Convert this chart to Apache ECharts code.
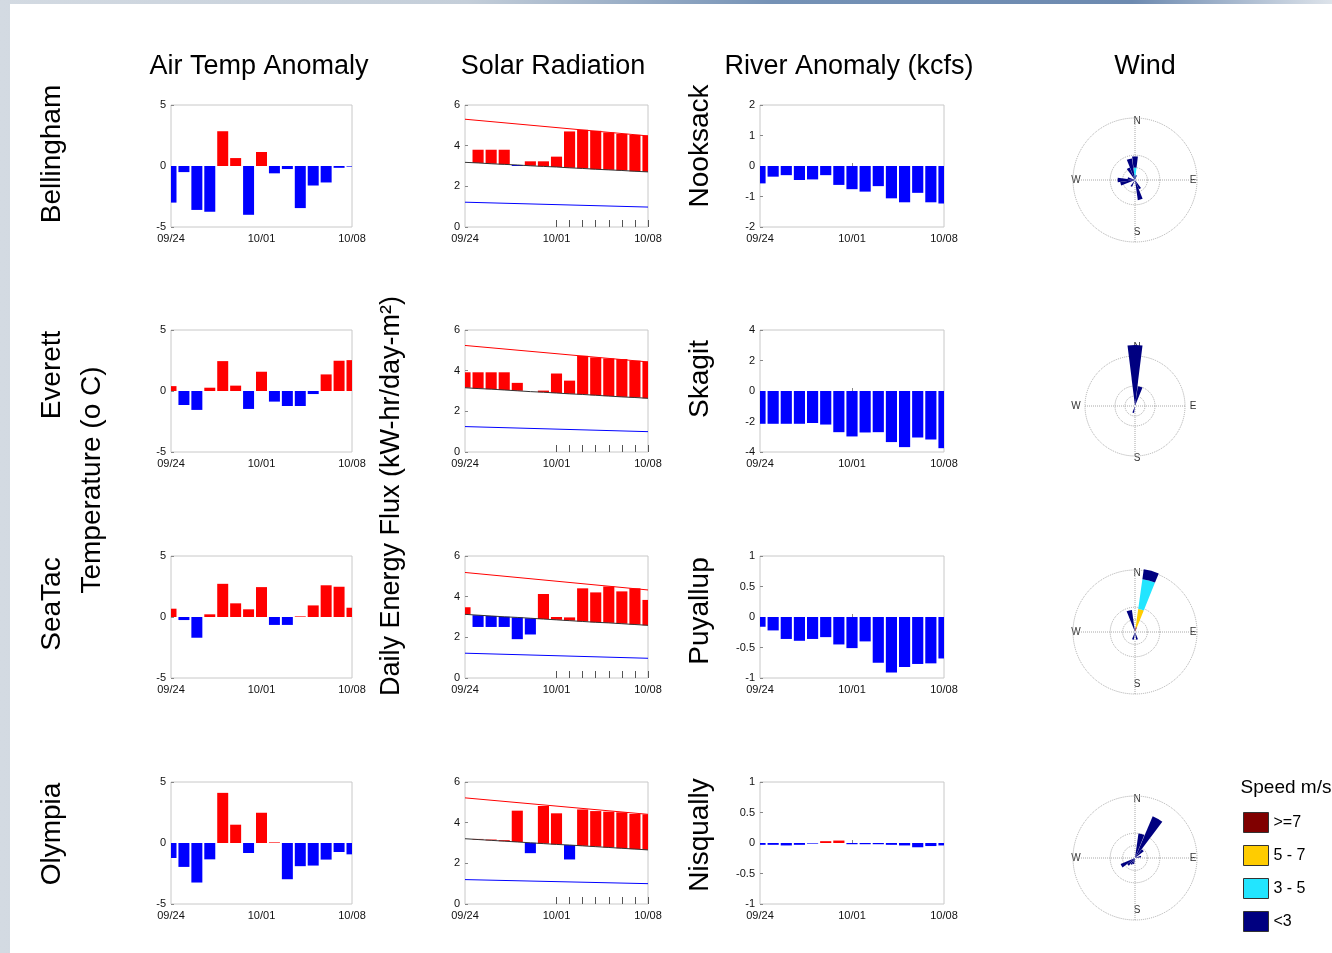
<!DOCTYPE html>
<html>
<head>
<meta charset="utf-8">
<title>Weather summary 09/24 - 10/08</title>
<script src="https://cdn.jsdelivr.net/npm/echarts/dist/echarts.min.js"></script>
<style>
  html, body { margin: 0; padding: 0; }
  #wrap { position: relative; width: 1332px; height: 953px; overflow: hidden;
    background: linear-gradient(90deg, #d3dae2 0%, #c4ced9 35%, #7592b6 58%, #6d8ab0 85%, #dde3ea 100%); }
  #paper { position: absolute; left: 10px; top: 4px; right: 0; bottom: 0; background: #fff; }
  #main { position: absolute; left: 0; top: 0; width: 1332px; height: 953px; }
</style>
</head>
<body>
<div id="wrap"><div id="paper"></div><div id="main"></div></div>
<script>
"use strict";

// ---- data ----
var days = ['09/24', '09/25', '09/26', '09/27', '09/28', '09/29', '09/30', '10/01',
            '10/02', '10/03', '10/04', '10/05', '10/06', '10/07', '10/08'];
var stations = ['Bellingham', 'Everett', 'SeaTac', 'Olympia'];
var rivers = ['Nooksack', 'Skagit', 'Puyallup', 'Nisqually'];
var columnTitles = ['Air Temp Anomaly', 'Solar Radiation', 'River Anomaly (kcfs)', 'Wind'];

// air temperature anomaly (deg C), one value per day
var tempBellingham = [-3.0, -0.5, -3.6, -3.75, 2.85, 0.65, -4.0, 1.15, -0.6, -0.25, -3.45, -1.6, -1.35, -0.15, -0.05];
var tempEverett    = [0.4, -1.15, -1.55, 0.27, 2.45, 0.44, -1.47, 1.58, -0.87, -1.23, -1.23, -0.25, 1.36, 2.48, 2.53];
var tempSeaTac     = [0.68, -0.25, -1.7, 0.22, 2.72, 1.12, 0.63, 2.45, -0.65, -0.65, 0.05, 0.95, 2.6, 2.48, 0.76];
var tempOlympia    = [-1.23, -1.96, -3.24, -1.34, 4.11, 1.5, -0.82, 2.48, 0.05, -2.97, -1.9, -1.85, -1.36, -0.74, -0.93];

// daily solar energy (kW-hr/day-m2): observed, climatology, clear sky (start/end), cloudy (start/end)
var solarBellingham = [3.18, 3.80, 3.80, 3.80, 3.00, 3.23, 3.23, 3.46, 4.70, 4.78, 4.73, 4.65, 4.58, 4.53, 4.50];
var climBellingham  = [3.18, 3.15, 3.11, 3.08, 3.05, 3.01, 2.98, 2.95, 2.91, 2.88, 2.84, 2.81, 2.78, 2.74, 2.71];
var clearBellingham = [5.30, 4.48];
var cloudBellingham = [1.22, 0.98];

var solarEverett = [3.92, 3.92, 3.92, 3.92, 3.40, 2.97, 3.02, 3.86, 3.51, 4.73, 4.65, 4.60, 4.57, 4.49, 4.45];
var climEverett  = [3.16, 3.12, 3.09, 3.05, 3.01, 2.97, 2.94, 2.90, 2.86, 2.83, 2.79, 2.75, 2.71, 2.68, 2.64];
var clearEverett = [5.24, 4.43];
var cloudEverett = [1.25, 1.00];

var solarSeaTac = [3.48, 2.51, 2.51, 2.51, 1.91, 2.14, 4.13, 3.00, 2.98, 4.41, 4.21, 4.50, 4.26, 4.41, 3.84];
var climSeaTac  = [3.13, 3.09, 3.05, 3.01, 2.98, 2.94, 2.90, 2.86, 2.82, 2.78, 2.74, 2.71, 2.67, 2.63, 2.59];
var clearSeaTac = [5.19, 4.33];
var cloudSeaTac = [1.22, 0.97];

var solarOlympia = [3.21, 3.20, 3.17, 3.14, 4.59, 2.50, 4.82, 4.46, 2.19, 4.65, 4.57, 4.54, 4.51, 4.43, 4.41];
var climOlympia  = [3.21, 3.17, 3.13, 3.09, 3.05, 3.01, 2.97, 2.93, 2.90, 2.86, 2.82, 2.78, 2.74, 2.70, 2.66];
var clearOlympia = [5.22, 4.41];
var cloudOlympia = [1.20, 1.00];

// river flow anomaly (kcfs)
var riverNooksack  = [-0.57, -0.35, -0.30, -0.46, -0.44, -0.30, -0.62, -0.76, -0.84, -0.66, -1.06, -1.19, -0.88, -1.19, -1.23];
var riverSkagit    = [-2.15, -2.15, -2.15, -2.15, -2.1, -2.2, -2.7, -2.98, -2.72, -2.7, -3.35, -3.68, -3.05, -3.18, -3.75];
var riverPuyallup  = [-0.16, -0.22, -0.36, -0.39, -0.36, -0.33, -0.45, -0.51, -0.40, -0.75, -0.91, -0.82, -0.77, -0.76, -0.68];
var riverNisqually = [-0.03, -0.03, -0.04, -0.03, -0.01, 0.03, 0.04, -0.02, -0.02, -0.02, -0.03, -0.04, -0.07, -0.05, -0.04];
var riverTicks = [[-2, 2, 1], [-4, 4, 2], [-1, 1, 0.5], [-1, 1, 0.5]]; // min, max, step

// wind rose: frequency (%) per 15 degree sector, starting at N going clockwise
var windSectors = ['0', '15', '30', '45', '60', '75', '90', '105', '120', '135', '150', '165',
                   '180', '195', '210', '225', '240', '255', '270', '285', '300', '315', '330', '345'];
var speedClasses = ['>=7', '5 - 7', '3 - 5', '<3'];
var roseRings = [5, 10, 25];
var bellinghamLt3  = [4.5, 2, 0, 0, 0, 0, 0, 0, 0, 0, 4, 8.2, 0, 0, 3, 0, 0, 6, 7, 3, 0, 0, 5.5, 8.8];
var bellingham3to5 = [5, 0, 0, 0, 0, 0, 0, 0, 0, 0, 0, 0, 0, 0, 0, 0, 0, 0, 0, 0, 0, 0, 0, 0];
var everettLt3     = [30.5, 10, 0, 0, 0, 0, 0, 0, 0, 0, 0, 0, 0, 3.5, 0, 0, 0, 0, 0, 0, 0, 0, 0, 0];
var seatacGe7      = [0, 2, 0, 0, 0, 0, 0, 0, 0, 0, 0, 0, 0, 0, 0, 0, 0, 0, 0, 0, 0, 0, 0, 0];
var seatac5to7     = [0, 7.4, 0, 0, 0, 0, 0, 0, 0, 0, 0, 0, 0, 0, 0, 0, 0, 0, 0, 0, 0, 0, 0, 0];
var seatac3to5     = [0, 12.1, 0, 0, 0, 0, 0, 0, 0, 0, 0, 0, 0, 0, 0, 0, 0, 0, 0, 0, 0, 0, 0, 0];
var seatacLt3      = [0, 4, 0, 0, 0, 0, 0, 0, 0, 0, 0, 3.2, 0, 3.2, 0, 0, 0, 0, 0, 0, 0, 0, 0, 9];
var olympiaLt3     = [0, 10, 18.3, 4.5, 0, 2.5, 0, 0, 0, 0, 0, 0, 0, 2.5, 3, 4, 6.3, 0, 0, 0, 0, 0, 0, 0];

// ---- styling / layout ----
var RED = '#ff0000', BLUE = '#0000ff';
var speedColors = ['#800000', '#ffcc00', '#22e5ff', '#000080'];
var FONT = '"Liberation Sans", Arial, sans-serif';
var colLeft = [171, 465, 760], colWidth = [181, 183, 184];
var rowTop = [105, 330, 556, 782], rowHeight = 122;
var roseX = 1135, roseY = [180, 406, 632, 858];
var roseScale = [2.48, 2.0, 2.48, 2.48]; // px per percent

var grids = [], xAxes = [], yAxes = [], series = [];
var polars = [], angleAxes = [], radiusAxes = [], graphics = [];

var labelStyle = { fontSize: 11, color: '#111', fontFamily: FONT };

// one small framed panel with the date axis; solar panels get daily ticks after 10/01
function addPanel(row, col, yMin, yMax, yStep) {
	grids.push({
		left: colLeft[col], top: rowTop[row], width: colWidth[col], height: rowHeight,
		show: true, borderColor: '#c8c8c8', borderWidth: 1
	});
	var g = grids.length - 1;
	var solar = col === 1;
	xAxes.push({
		type: 'category', gridIndex: g, data: days, boundaryGap: false, position: 'bottom',
		axisLine: { show: false }, splitLine: { show: false },
		axisTick: { show: true, inside: true, length: solar ? 7 : 3,
			lineStyle: { color: solar ? '#555' : '#888' },
			interval: function (i) { return solar ? i >= 7 : i === 7; } },
		axisLabel: Object.assign({ margin: 6, interval: function (i) { return i % 7 === 0; } }, labelStyle)
	});
	yAxes.push({
		type: 'value', gridIndex: g, min: yMin, max: yMax, interval: yStep,
		axisLine: { show: false }, splitLine: { show: false },
		axisTick: { show: true, inside: true, length: 3, lineStyle: { color: '#888' } },
		axisLabel: Object.assign({ margin: 5 }, labelStyle)
	});
	return g;
}

// rectangle from value(1) to value(2), red when it rises, blue when it falls
function renderBar(params, api) {
	var i = api.value(0), lo = api.value(1), hi = api.value(2);
	var p0 = api.coord([i, lo]), p1 = api.coord([i, hi]);
	var w = api.size([1, 0])[0] * 0.85;
	return {
		type: 'rect',
		shape: { x: p0[0] - w / 2, y: Math.min(p0[1], p1[1]), width: w, height: Math.abs(p1[1] - p0[1]) },
		style: { fill: hi >= lo ? RED : BLUE }
	};
}

function floatBars(g, from, to) {
	series.push({
		type: 'custom', xAxisIndex: g, yAxisIndex: g, clip: true, renderItem: renderBar,
		encode: { x: 0, y: [1, 2] },
		data: to.map(function (v, i) { return [i, from ? from[i] : 0, v]; })
	});
}

function solarLines(g, clim, clear, cloud) {
	var line = { type: 'line', xAxisIndex: g, yAxisIndex: g, symbol: 'none', silent: true, z: 3 };
	series.push(Object.assign({ data: [[0, clear[0]], [14, clear[1]]], lineStyle: { color: RED, width: 1 } }, line));
	series.push(Object.assign({ data: [[0, cloud[0]], [14, cloud[1]]], lineStyle: { color: BLUE, width: 1 } }, line));
	series.push(Object.assign({ data: clim.map(function (v, i) { return [i, v]; }), lineStyle: { color: '#333', width: 1 } }, line));
}

function addPolar(cx, cy, r, angleAx, radiusAx) {
	polars.push({ center: [cx, cy], radius: r });
	angleAx.polarIndex = polars.length - 1;
	radiusAx.polarIndex = polars.length - 1;
	angleAxes.push(angleAx);
	radiusAxes.push(radiusAx);
	return polars.length - 1;
}

function windRose(s, classes) {
	var cy = roseY[s], k = roseScale[s];
	var dotted = { color: '#a8a8a8', type: 'dotted', width: 1 };
	roseRings.forEach(function (ring, n) {
		addPolar(roseX, cy, ring * k, {
			type: 'value', min: 0, max: 360, interval: 90, startAngle: 90, clockwise: true,
			axisLine: { show: true, lineStyle: dotted }, axisTick: { show: false }, axisLabel: { show: false },
			splitLine: { show: n === roseRings.length - 1, lineStyle: dotted }
		}, { type: 'value', min: 0, max: ring, show: false });
	});
	var pi = addPolar(roseX, cy, 32 * k,
		{ type: 'category', data: windSectors, startAngle: 97.5, clockwise: true, show: false },
		{ type: 'value', min: 0, max: 32, show: false });
	classes.forEach(function (arr, c) {
		if (!arr) return;
		series.push({
			type: 'bar', coordinateSystem: 'polar', polarIndex: pi, name: speedClasses[c],
			stack: 'rose' + s, data: arr, barCategoryGap: '6%', itemStyle: { color: speedColors[c] }
		});
	});
	// compass letters
	[['N', 2, -59], ['E', 58, 0], ['S', 2, 52], ['W', -59, 0]].forEach(function (d) {
		graphics.push(text(d[0], roseX + d[1], cy + d[2], 10, false, '#333'));
	});
}

function text(str, x, y, size, vertical, color) {
	return {
		type: 'text', x: x, y: y, rotation: vertical ? Math.PI / 2 : 0, silent: true,
		style: { text: str, font: size + 'px ' + FONT, fill: color || '#000',
			textAlign: 'center', textVerticalAlign: 'middle' }
	};
}

// ---- build panels ----
var temps = [tempBellingham, tempEverett, tempSeaTac, tempOlympia];
var solars = [solarBellingham, solarEverett, solarSeaTac, solarOlympia];
var clims = [climBellingham, climEverett, climSeaTac, climOlympia];
var clears = [clearBellingham, clearEverett, clearSeaTac, clearOlympia];
var clouds = [cloudBellingham, cloudEverett, cloudSeaTac, cloudOlympia];
var flows = [riverNooksack, riverSkagit, riverPuyallup, riverNisqually];
var winds = [
	[null, null, bellingham3to5, bellinghamLt3],
	[null, null, null, everettLt3],
	[seatacGe7, seatac5to7, seatac3to5, seatacLt3],
	[null, null, null, olympiaLt3]
];

for (var r = 0; r < 4; r++) {
	floatBars(addPanel(r, 0, -5, 5, 5), null, temps[r]);
	var sg = addPanel(r, 1, 0, 6, 2);
	floatBars(sg, clims[r], solars[r]);
	solarLines(sg, clims[r], clears[r], clouds[r]);
	floatBars(addPanel(r, 2, riverTicks[r][0], riverTicks[r][1], riverTicks[r][2]), null, flows[r]);
	windRose(r, winds[r]);
}

// ---- titles and side labels ----
var titleX = [259, 553, 849, 1145];
columnTitles.forEach(function (t, i) { graphics.push(text(t, titleX[i], 67, 27)); });
var stationY = [154, 375, 604, 834];
stations.forEach(function (t, i) { graphics.push(text(t, 52, stationY[i], 28, true)); });
var riverY = [146, 379, 611, 835];
rivers.forEach(function (t, i) { graphics.push(text(t, 700, riverY[i], 28, true)); });
graphics.push(text('Temperature (o C)', 92, 480, 28, true));
graphics.push(text('Daily Energy Flux (kW-hr/day-m\u00b2)', 392, 496, 27, true));
graphics.push(text('Speed m/s', 1286, 788, 19));

var chart = echarts.init(document.getElementById('main'), null, { renderer: 'canvas' });
chart.setOption({
	animation: false,
	textStyle: { fontFamily: FONT },
	grid: grids,
	xAxis: xAxes,
	yAxis: yAxes,
	polar: polars,
	angleAxis: angleAxes,
	radiusAxis: radiusAxes,
	legend: {
		data: speedClasses, orient: 'vertical', left: 1238, top: 807,
		itemWidth: 25, itemHeight: 20, itemGap: 12, icon: 'rect', selectedMode: false,
		itemStyle: { borderColor: '#333', borderWidth: 1 },
		textStyle: { fontSize: 16, color: '#000', fontFamily: FONT }
	},
	graphic: graphics,
	series: series
});
</script>
</body>
</html>
